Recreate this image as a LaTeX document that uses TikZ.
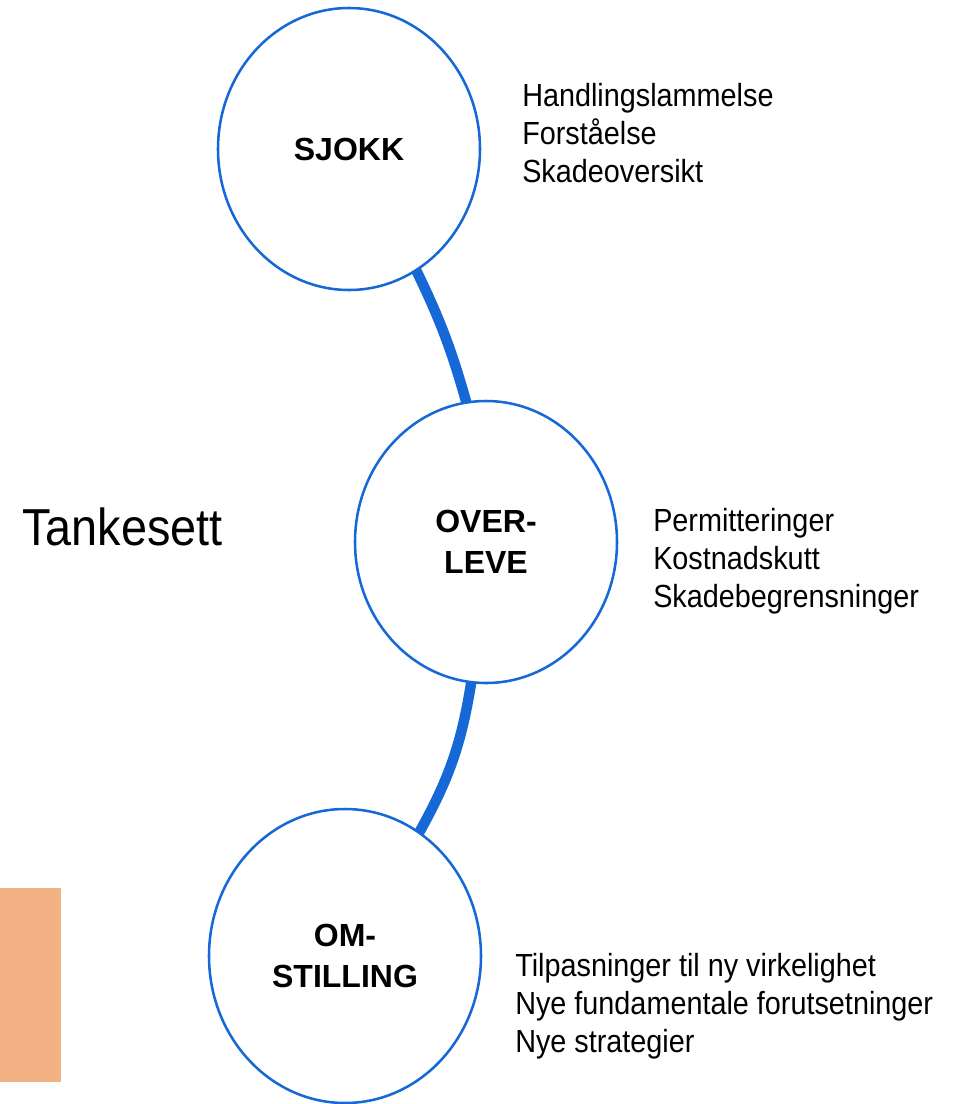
\documentclass[tikz,border=0pt]{standalone}
\usepackage{fontspec}
\setmainfont{Liberation Sans}[FakeStretch=0.9]
\newfontfamily\headfont{Liberation Sans}
\usetikzlibrary{shapes.geometric}
\definecolor{cblue}{RGB}{22,104,214}
\definecolor{corange}{RGB}{243,178,132}
\tikzset{
  stage/.style={ellipse, draw=cblue, line width=1.9pt, fill=white, inner sep=0pt, outer sep=0pt,
    align=center, font=\headfont\bfseries\fontsize{24}{30.75}\selectfont},
  conn/.style={draw=cblue, line width=7.8pt},
  desc/.style={anchor=west, align=left, inner sep=0pt, font=\fontsize{24}{28.5}\selectfont},
}
\begin{document}
\begin{tikzpicture}[x=0.75pt, y=0.75pt]
\useasboundingbox (0,0) rectangle (964,-1104);
\fill[corange] (0,-888) rectangle (61,-1082);
\node[stage, minimum width=196.5pt, minimum height=211.5pt] (sjokk) at (349,-149) {SJOKK};
\node[stage, minimum width=196.5pt, minimum height=211.5pt] (over) at (486,-542) {OVER-\\LEVE};
\node[stage, minimum width=204pt, minimum height=220.5pt] (om) at (345,-956) {OM-\\STILLING};
\draw[conn] (sjokk.299.7) to[bend left=5] (over.98.2);
\draw[conn] (over.264.7) to[bend left=10] (om.59.4);
\node[desc] (t1) at (522,-133) {Handlingslammelse\\Forståelse\\Skadeoversikt};
\node[desc] (t2) at (653,-561) {Permitteringer\\Kostnadskutt\\Skadebegrensninger};
\node[desc] (t3) at (515,-1006) {Tilpasninger til ny virkelighet\\Nye fundamentale forutsetninger\\Nye strategier};
\node[anchor=west, inner sep=0pt, font=\fontsize{39}{45}\selectfont] (tank) at (22,-527) {Tankesett};
\end{tikzpicture}
\end{document}
